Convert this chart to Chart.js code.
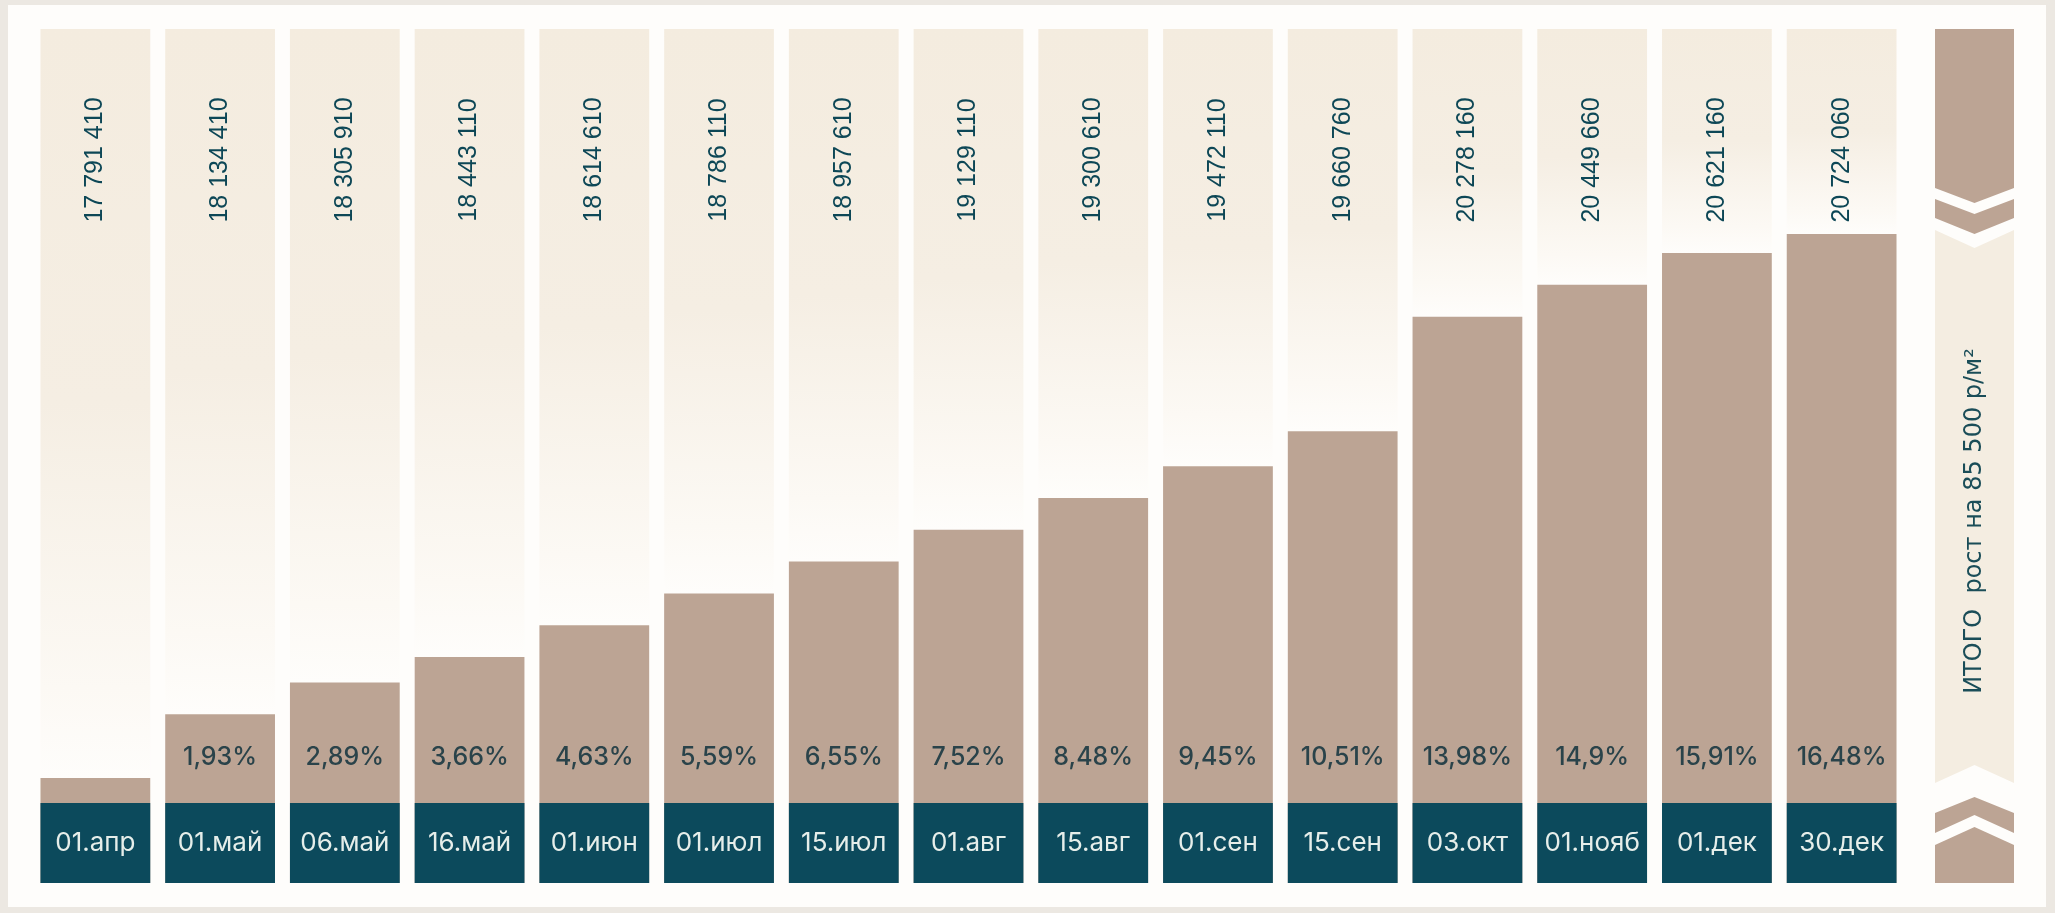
<!DOCTYPE html>
<html><head><meta charset="utf-8">
<script src="https://cdn.jsdelivr.net/npm/chart.js@4.4.1/dist/chart.umd.min.js"></script>
<style>
html,body{margin:0;padding:0;background:#ece8e2;width:2055px;height:913px;overflow:hidden}
#frame{position:absolute;left:8px;top:5px;width:2038px;height:902px;background:#fefdfb}
#c{position:absolute;left:0;top:0}
</style></head><body>
<div id="frame"></div>
<canvas id="c" width="2055" height="913"></canvas>
<script>
const categories = ['01.апр','01.май','06.май','16.май','01.июн','01.июл','15.июл','01.авг','15.авг','01.сен','15.сен','03.окт','01.нояб','01.дек','30.дек'];
const prices = [17791410,18134410,18305910,18443110,18614610,18786110,18957610,19129110,19300610,19472110,19660760,20278160,20449660,20621160,20724060];
const growthPct = [null,1.93,2.89,3.66,4.63,5.59,6.55,7.52,8.48,9.45,10.51,13.98,14.9,15.91,16.48];
const totalLabel = 'ИТОГО  рост на 85 500 р/м²';
const yMin = 17225000;
const yMax = 21829000;

const TAN = '#bca494', TEAL = '#0c4a5c', CREAM = '#f4ecdf';
const fmtPrice = v => String(v).replace(/\B(?=(\d{3})+(?!\d))/g, ' ');
const fmtPct = p => String(p).replace('.', ',') + '%';

const decor = {
  id: 'decor',
  afterDatasetsDraw(chart) {
    const ctx = chart.ctx, a = chart.chartArea;
    const meta = chart.getDatasetMeta(0);
    ctx.save();
    meta.data.forEach((bar, i) => {
      const p = bar.getProps(['x', 'width'], true);
      const x = p.x, w = p.width;
      ctx.fillStyle = TEAL;
      ctx.fillRect(x - w / 2, a.bottom - 80, w, 80);
      ctx.textAlign = 'center'; ctx.textBaseline = 'middle';
      ctx.fillStyle = '#e6eeea';
      ctx.font = '400 26px Inter';
      ctx.fillText(categories[i], x, a.bottom - 40);
      if (growthPct[i] != null) {
        ctx.fillStyle = '#2a434a';
        ctx.font = '500 25px Inter';
        ctx.fillText(fmtPct(growthPct[i]), x, a.bottom - 126);
      }
      ctx.save();
      ctx.translate(x, a.top + 131);
      ctx.rotate(-Math.PI / 2);
      ctx.fillStyle = '#0d4756';
      ctx.font = '400 25px "Liberation Sans"';
      ctx.fillText(fmtPrice(prices[i]), 0, 0);
      ctx.restore();
    });
    // right summary panel
    const L = a.right + 31, R = L + 79, C = (L + R) / 2, T = a.top, B = a.bottom;
    const poly = (pts, col) => { ctx.beginPath(); pts.forEach((q, k) => k ? ctx.lineTo(q[0], q[1]) : ctx.moveTo(q[0], q[1])); ctx.closePath(); ctx.fillStyle = col; ctx.fill(); };
    poly([[L, T + 201], [C, T + 219], [R, T + 201], [R, B - 100], [C, B - 118], [L, B - 100]], '#f4ede1');
    poly([[L, T], [R, T], [R, T + 159], [C, T + 174], [L, T + 159]], TAN);
    poly([[L, T + 170], [C, T + 185], [R, T + 170], [R, T + 189], [C, T + 205], [L, T + 189]], TAN);
    poly([[L, B - 70], [C, B - 86], [R, B - 70], [R, B - 50], [C, B - 68], [L, B - 50]], TAN);
    poly([[L, B - 38], [C, B - 56], [R, B - 38], [R, B], [L, B]], TAN);
    ctx.save();
    ctx.translate(C, 521);
    ctx.rotate(-Math.PI / 2);
    ctx.fillStyle = '#1a4d58';
    ctx.font = '400 24px "DejaVu Sans"';
    ctx.textAlign = 'center'; ctx.textBaseline = 'middle';
    ctx.fillText(totalLabel, 0, 0);
    ctx.restore();
    ctx.restore();
  }
};

const colFill = (c) => {
  const ch = c.chart, a = ch.chartArea;
  if (!a || c.dataIndex === undefined) return CREAM;
  const yBar = ch.scales.y.getPixelForValue(prices[c.dataIndex]);
  const g = ch.ctx.createLinearGradient(0, a.top, 0, yBar);
  g.addColorStop(0, '#f4ecdf');
  g.addColorStop(0.5, '#f5eee3');
  g.addColorStop(0.88, '#fcf9f4');
  g.addColorStop(1, '#fefdfb');
  return g;
};

const chart = new Chart(document.getElementById('c'), {
  type: 'bar',
  data: {
    labels: categories,
    datasets: [
      { label: 'Цена', data: prices, backgroundColor: TAN, borderWidth: 0, grouped: false, order: 0, categoryPercentage: 1, barPercentage: 0.88 },
      { label: 'фон', data: categories.map(() => yMax), backgroundColor: colFill, borderWidth: 0, grouped: false, order: 1, categoryPercentage: 1, barPercentage: 0.88 }
    ]
  },
  options: {
    responsive: false, animation: false, devicePixelRatio: 1,
    layout: { padding: { left: 33, right: 151, top: 29, bottom: 30 } },
    plugins: { legend: { display: false }, tooltip: { enabled: false } },
    scales: {
      x: { display: false },
      y: { display: false, min: yMin, max: yMax }
    }
  },
  plugins: [decor]
});
chart.update('none');
</script>
</body></html>
